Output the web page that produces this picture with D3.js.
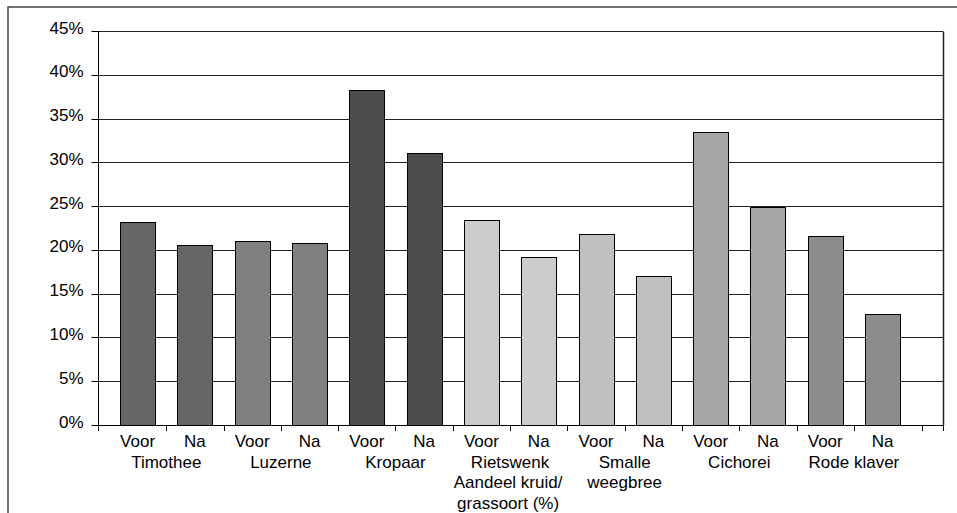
<!DOCTYPE html>
<html>
<head>
<meta charset="utf-8">
<script src="https://cdn.jsdelivr.net/npm/d3@7"></script>
<style>
  body { margin: 0; background: #fff; }
  text { font-family: "Liberation Sans", Arial, sans-serif; font-size: 17px; fill: #000; }
</style>
</head>
<body>
<div id="chart"></div>
<script>
const groups = ["Timothee", "Luzerne", "Kropaar", "Rietswenk", "Smalle weegbree", "Cichorei", "Rode klaver"];
const groupLines = [["Timothee"], ["Luzerne"], ["Kropaar"], ["Rietswenk"], ["Smalle", "weegbree"], ["Cichorei"], ["Rode klaver"]];
const moments = ["Voor", "Na"];
const voorValues = [23.2, 21.0, 38.3, 23.4, 21.8, 33.5, 21.6];
const naValues = [20.6, 20.75, 31.1, 19.2, 17.0, 24.9, 12.7];
const groupColors = ["#666666", "#808080", "#4d4d4d", "#cccccc", "#c0c0c0", "#a6a6a6", "#8c8c8c"];
const yTicks = [0, 5, 10, 15, 20, 25, 30, 35, 40, 45];
const axisTitle = ["Aandeel kruid/", "grassoort (%)"];

const W = 957, H = 513;
const plot = { left: 98, right: 943, top: 31, bottom: 425 };

// one row per bar
const bars = [];
groups.forEach((g, i) => {
  bars.push({ key: g + "|Voor", group: i, moment: "Voor", value: voorValues[i] });
  bars.push({ key: g + "|Na", group: i, moment: "Na", value: naValues[i] });
});

const svg = d3.select("#chart").append("svg").attr("width", W).attr("height", H);

// outer frame (runs off the page on the right and bottom)
svg.append("rect")
  .attr("x", 8).attr("y", 7).attr("width", 2000).attr("height", 2000)
  .attr("fill", "none").attr("stroke", "#444").attr("stroke-width", 1.5);

const x = d3.scaleBand()
  .domain(bars.map(d => d.key))
  .range([plot.left, plot.right])
  .paddingInner(0.39)
  .paddingOuter(0.568)
  .align(0.34);

const y = d3.scaleLinear().domain([0, 45]).range([plot.bottom, plot.top]);

// gridlines
svg.append("g").selectAll("line").data(yTicks.filter(t => t > 0)).join("line")
  .attr("x1", plot.left).attr("x2", plot.right)
  .attr("y1", d => Math.round(y(d)) + 0.5).attr("y2", d => Math.round(y(d)) + 0.5)
  .attr("stroke", "#222").attr("stroke-width", 1);

// right border
svg.append("line")
  .attr("x1", plot.right + 0.5).attr("x2", plot.right + 0.5)
  .attr("y1", Math.round(y(45)) + 0.5).attr("y2", plot.bottom)
  .attr("stroke", "#222").attr("stroke-width", 1.5);

// bars
svg.append("g").selectAll("rect").data(bars).join("rect")
  .attr("x", d => Math.round(x(d.key)) + 0.5)
  .attr("y", d => Math.round(y(d.value)) + 0.5)
  .attr("width", Math.round(x.bandwidth()))
  .attr("height", d => Math.round(y(0)) - Math.round(y(d.value)))
  .attr("fill", d => groupColors[d.group])
  .attr("stroke", "#000").attr("stroke-width", 1);

// y axis
const gy = svg.append("g").attr("transform", `translate(${plot.left + 0.5},0)`);
gy.append("line").attr("y1", plot.top).attr("y2", plot.bottom + 5).attr("stroke", "#000");
gy.selectAll("line.tick").data(yTicks).join("line").attr("class", "tick")
  .attr("x1", -7).attr("x2", 0)
  .attr("y1", d => Math.round(y(d)) + 0.5).attr("y2", d => Math.round(y(d)) + 0.5)
  .attr("stroke", "#000");
gy.selectAll("text").data(yTicks).join("text")
  .attr("x", -15).attr("y", d => y(d) + 2.5)
  .attr("text-anchor", "end")
  .text(d => d + "%");

// x axis line and ticks
const gx = svg.append("g");
gx.append("line")
  .attr("x1", plot.left).attr("x2", plot.right + 1)
  .attr("y1", plot.bottom + 0.5).attr("y2", plot.bottom + 0.5)
  .attr("stroke", "#000");
const gap = x.step() - x.bandwidth();
const tickXs = [plot.left];
bars.forEach((d, i) => { if (i > 0) tickXs.push(x(d.key) - gap / 2); });
tickXs.push(x(bars[bars.length - 1].key) + x.bandwidth() + gap);
tickXs.push(plot.right);
gx.selectAll("line.tick").data(tickXs).join("line").attr("class", "tick")
  .attr("x1", d => Math.round(d) + 0.5).attr("x2", d => Math.round(d) + 0.5)
  .attr("y1", plot.bottom).attr("y2", plot.bottom + 6)
  .attr("stroke", "#000");

// Voor / Na labels
gx.selectAll("text.moment").data(bars).join("text").attr("class", "moment")
  .attr("x", d => x(d.key) + x.bandwidth() / 2)
  .attr("y", plot.bottom + 22.3)
  .attr("text-anchor", "middle")
  .text(d => d.moment);

// group labels
const groupCenter = i => (x(groups[i] + "|Voor") + x(groups[i] + "|Na") + x.bandwidth()) / 2;
groups.forEach((g, i) => {
  groupLines[i].forEach((line, j) => {
    gx.append("text")
      .attr("x", groupCenter(i))
      .attr("y", plot.bottom + 42.7 + j * 20.5)
      .attr("text-anchor", "middle")
      .text(line);
  });
});

// axis title under the middle group
axisTitle.forEach((line, j) => {
  gx.append("text")
    .attr("x", groupCenter(3) - 2)
    .attr("y", plot.bottom + 63.3 + j * 20.5)
    .attr("text-anchor", "middle")
    .text(line);
});
</script>
</body>
</html>
